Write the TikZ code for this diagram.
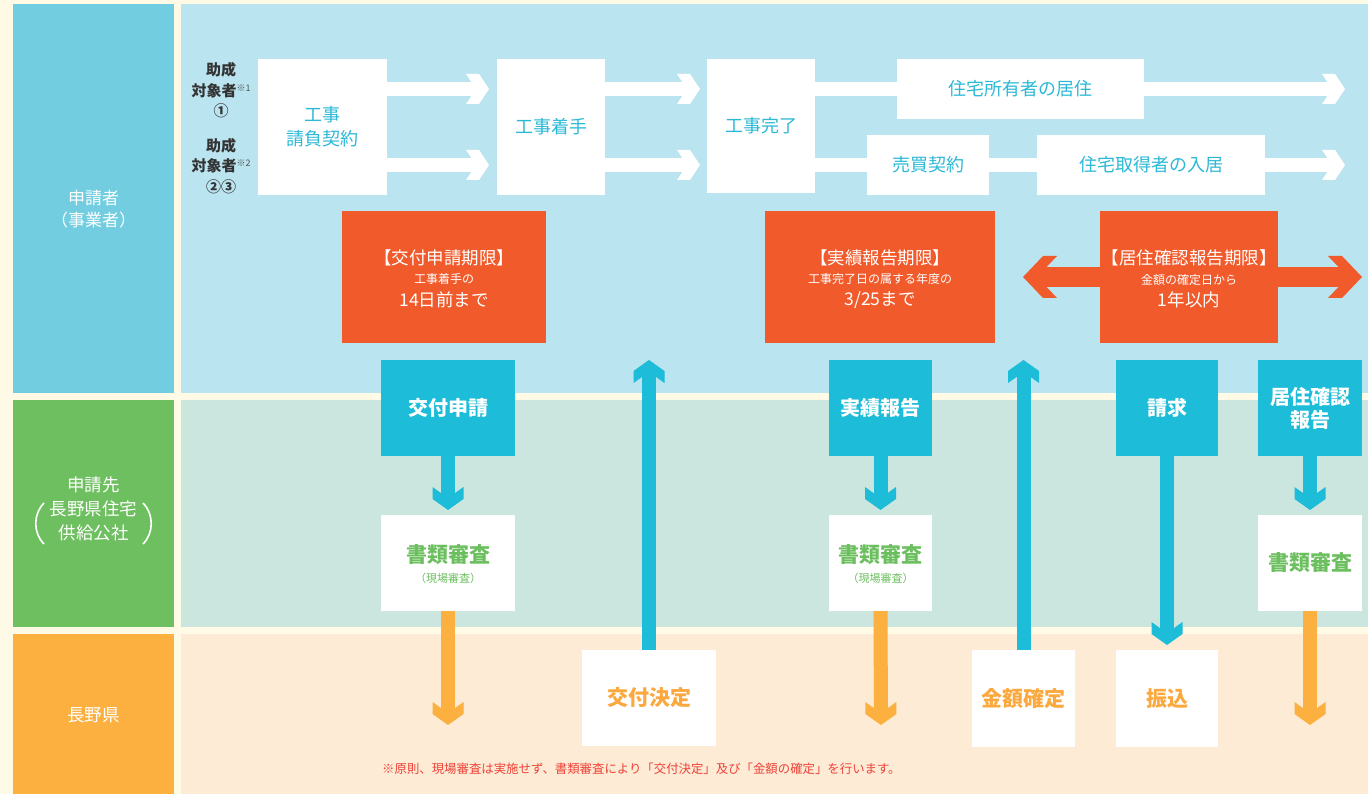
\documentclass[tikz,border=0pt]{standalone}
\usepackage{fontspec}
\setmainfont{Noto Sans CJK JP}
\usetikzlibrary{arrows.meta}
\definecolor{cream}{HTML}{FFFAE6}
\definecolor{colblue}{HTML}{72CDE0}
\definecolor{colgreen}{HTML}{6EBF5F}
\definecolor{colorange}{HTML}{FBB040}
\definecolor{panblue}{HTML}{BAE4F0}
\definecolor{pangreen}{HTML}{CBE6DF}
\definecolor{panpeach}{HTML}{FDEBD6}
\definecolor{boxorange}{HTML}{F15A2B}
\definecolor{boxblue}{HTML}{1DBCD8}
\definecolor{txtcyan}{HTML}{2BB9D6}
\definecolor{txtgreen}{HTML}{6CBF5F}
\definecolor{txtorange}{HTML}{FBA93F}
\definecolor{txtred}{HTML}{EF4136}
\definecolor{txtdark}{HTML}{333333}
\definecolor{txtgray}{HTML}{555555}
\newdimen\chevtot
\pgfdeclarearrow{
  name = Chev,
  parameters = {\the\pgfarrowlength,\the\pgfarrowwidth,\the\pgfarrowinset},
  setup code = {
    \chevtot=\pgfarrowlength
    \advance\chevtot by \pgfarrowinset
    \pgfarrowssettipend{0pt}
    \pgfarrowssetlineend{-\pgfarrowinset}
    \pgfarrowssetbackend{-\chevtot}
    \pgfarrowssavethe\pgfarrowlength
    \pgfarrowssavethe\pgfarrowwidth
    \pgfarrowssavethe\pgfarrowinset
  },
  drawing code = {
    \chevtot=\pgfarrowlength
    \advance\chevtot by \pgfarrowinset
    \pgfpathmoveto{\pgfqpoint{0pt}{0pt}}
    \pgfpathlineto{\pgfqpoint{-\pgfarrowlength}{.5\pgfarrowwidth}}
    \pgfpathlineto{\pgfqpoint{-\chevtot}{.5\pgfarrowwidth}}
    \pgfpathlineto{\pgfqpoint{-\pgfarrowinset}{0pt}}
    \pgfpathlineto{\pgfqpoint{-\chevtot}{-.5\pgfarrowwidth}}
    \pgfpathlineto{\pgfqpoint{-\pgfarrowlength}{-.5\pgfarrowwidth}}
    \pgfpathclose
    \pgfusepathqfill
  },
  defaults = {length=10pt, width=30pt, inset=13pt}
}
\pgfdeclarelayer{back}
\pgfdeclarelayer{mid}
\pgfsetlayers{back,mid,main}
\newcommand\fsz[2]{\fontsize{#1pt}{#2pt}\selectfont}
\tikzset{
  wbox/.style={fill=white, inner sep=0pt, outer sep=0pt, align=center},
  topbox/.style={wbox, text=txtcyan, font=\fsz{18}{24}},
  obox/.style={fill=boxorange, inner sep=0pt, outer sep=0pt},
  otxt/.style={text=white, inner sep=0pt, font=\fsz{17.5}{20}},
  osub/.style={text=white, inner sep=0pt, font=\fsz{12}{14}},
  bbox/.style={fill=boxblue, inner sep=0pt, outer sep=0pt, align=center, text=white, font=\bfseries\fsz{20}{23}},
  rbox/.style={wbox, text=txtgreen, font=\bfseries\fsz{21}{24}},
  gtit/.style={text=txtgreen, inner sep=0pt, font=\bfseries\fsz{21}{24}},
  gsub/.style={text=txtgreen, inner sep=0pt, font=\fsz{11}{13}},
  kbox/.style={wbox, text=txtorange, font=\bfseries\fsz{21}{24}},
  sidelab/.style={text=white, align=center, inner sep=0pt},
  joseilab/.style={text=txtdark, align=center, inner sep=0pt, font=\bfseries\fsz{15}{20.5}},
  warrow/.style={draw=white, line width=14pt, -{Chev[length=10pt,width=30pt,inset=13pt]}},
  varrow/.style={line width=14pt, -{Chev[length=11pt,width=31pt,inset=12pt]}},
}
\begin{document}
\begin{tikzpicture}[x=1pt,y=-1pt]
\useasboundingbox (0,0) rectangle (1368,794);
\begin{pgfonlayer}{back}
\fill[cream] (0,0) rectangle (1368,794);
\fill[colblue] (13,4) rectangle (174,393);
\fill[colgreen] (13,400) rectangle (174,627);
\fill[colorange] (13,634) rectangle (174,794);
\fill[panblue] (181,4) rectangle (1368,393);
\fill[pangreen] (181,400) rectangle (1368,627);
\fill[panpeach] (181,634) rectangle (1368,794);
\end{pgfonlayer}

% side labels
\node[sidelab, font=\fsz{17}{22}] (lab1) at (93.5,209) {申請者\\（事業者）};
\node[sidelab, font=\fsz{17.5}{24}] (lab2) at (93.5,509) {申請先\\長野県住宅\\供給公社};
\draw[white, line width=1.6pt] (44,503) .. controls (33,514) and (33,533) .. (44,544);
\draw[white, line width=1.6pt] (143,503) .. controls (154,514) and (154,533) .. (143,544);
\node[sidelab, font=\fsz{17.5}{22}] (lab3) at (93.5,715) {長野県};

% josei labels
\node[joseilab] (js1) at (221,90.5) {助成\\対象者{\mdseries\color{txtgray}\fsz{9}{9}\raisebox{5pt}{※1}}\\①};
\node[joseilab] (js2) at (221,166) {助成\\対象者{\mdseries\color{txtgray}\fsz{9}{9}\raisebox{5pt}{※2}}\\②③};

% top row
\coordinate (row1) at (0,89);
\coordinate (row2) at (0,165);
\node[topbox, minimum width=129pt, minimum height=136pt] (kyo) at (322.5,127) {工事\\請負契約};
\node[topbox, minimum width=108pt, minimum height=136pt] (cyak) at (551,127) {工事着手};
\node[topbox, minimum width=108pt, minimum height=134pt] (kanr) at (761,126) {工事完了};
\node[topbox, minimum width=247pt, minimum height=60pt] (kyoj) at (1020.5,89) {住宅所有者の居住};
\node[topbox, minimum width=122pt, minimum height=60pt] (baib) at (928,165) {売買契約};
\node[topbox, minimum width=228pt, minimum height=60pt] (nyuk) at (1151,165) {住宅取得者の入居};
\coordinate (end1) at (1345,89);
\coordinate (end2) at (1345,165);

% orange deadline boxes
\node[obox, minimum width=204pt, minimum height=132pt] (ok1) at (444,277) {};
\node[otxt] (ok1a) at (444,258) {【交付申請期限】};
\node[osub] (ok1b) at (444,279) {工事着手の};
\node[otxt] (ok1c) at (444,300) {14日前まで};
\node[obox, minimum width=230pt, minimum height=132pt] (ok2) at (880,277) {};
\node[otxt] (ok2a) at (880,258) {【実績報告期限】};
\node[osub] (ok2b) at (880,279) {工事完了日の属する年度の};
\node[otxt] (ok2c) at (880,300) {3/25まで};
\node[obox, minimum width=178pt, minimum height=132pt] (ok3) at (1189,277) {};
\node[otxt] (ok3a) at (1189,258) {【居住確認報告期限】};
\node[osub] (ok3b) at (1189,280) {金額の確定日から};
\node[otxt] (ok3c) at (1189,300) {1年以内};
\coordinate (dl) at (1023,277);
\coordinate (dr) at (1362,277);

% blue boxes
\node[bbox, minimum width=134pt, minimum height=96pt] (kofu) at (448,408) {交付申請};
\node[bbox, minimum width=103pt, minimum height=96pt] (jisseki) at (880.5,408) {実績報告};
\node[bbox, minimum width=102pt, minimum height=96pt] (seikyu) at (1167,408) {請求};
\node[bbox, minimum width=104pt, minimum height=96pt] (kyoju) at (1310,408) {居住確認\\報告};

% review boxes
\node[wbox, minimum width=134pt, minimum height=96pt] (shinsa1) at (448,563) {};
\node[gtit] (s1a) at (448,555) {書類審査};
\node[gsub] (s1b) at (448,578) {（現場審査）};
\node[wbox, minimum width=103pt, minimum height=96pt] (shinsa2) at (880.5,563) {};
\node[gtit] (s2a) at (880.5,555) {書類審査};
\node[gsub] (s2b) at (880.5,578) {（現場審査）};
\node[rbox, minimum width=104pt, minimum height=96pt] (shinsa3) at (1310,563) {書類審査};

% bottom boxes
\node[kbox, minimum width=134pt, minimum height=96pt] (kettei) at (649,698) {交付決定};
\node[kbox, minimum width=103pt, minimum height=97pt] (kingaku) at (1023.5,698.5) {金額確定};
\node[kbox, minimum width=102pt, minimum height=97pt] (furikomi) at (1167,698.5) {振込};
\coordinate (up) at (0,360);
\coordinate (o1) at (448,725);
\coordinate (o2) at (881,725);
\coordinate (o3) at (1310,725);

\node[text=txtred, anchor=west, inner sep=0pt, font=\fsz{12.4}{14}] (note) at (382,769) {※原則、現場審査は実施せず、書類審査により「交付決定」及び「金額の確定」を行います。};

\begin{pgfonlayer}{mid}
\draw[warrow, shorten >=8pt] (kyo.east |- row1) -- (cyak.west |- row1);
\draw[warrow, shorten >=8pt] (kyo.east |- row2) -- (cyak.west |- row2);
\draw[warrow, shorten >=7pt] (cyak.east |- row1) -- (kanr.west |- row1);
\draw[warrow, shorten >=7pt] (cyak.east |- row2) -- (kanr.west |- row2);
\draw[warrow] (kanr.east |- row1) -- (end1);
\draw[warrow] (kanr.east |- row2) -- (end2);
\draw[boxorange, line width=20pt, {Chev[length=20pt,width=42pt,inset=14pt]}-{Chev[length=20pt,width=42pt,inset=14pt]}] (dl) -- (dr);
\draw[varrow, boxblue, shorten >=5pt] (kofu.south) -- (shinsa1.north);
\draw[varrow, boxblue, shorten >=5pt] (jisseki.south) -- (shinsa2.north);
\draw[varrow, boxblue, shorten >=5pt] (kyoju.south) -- (shinsa3.north);
\draw[varrow, boxblue, shorten >=5pt] (seikyu.south) -- (furikomi.north);
\draw[varrow, colorange] (shinsa1.south) -- (o1);
\draw[varrow, colorange] (shinsa2.south) -- (o2);
\draw[varrow, colorange] (shinsa3.south) -- (o3);
\draw[varrow, boxblue] (kettei.north) -- (kettei.north |- up);
\draw[varrow, boxblue] (kingaku.north) -- (kingaku.north |- up);
\end{pgfonlayer}
\end{tikzpicture}
\end{document}
